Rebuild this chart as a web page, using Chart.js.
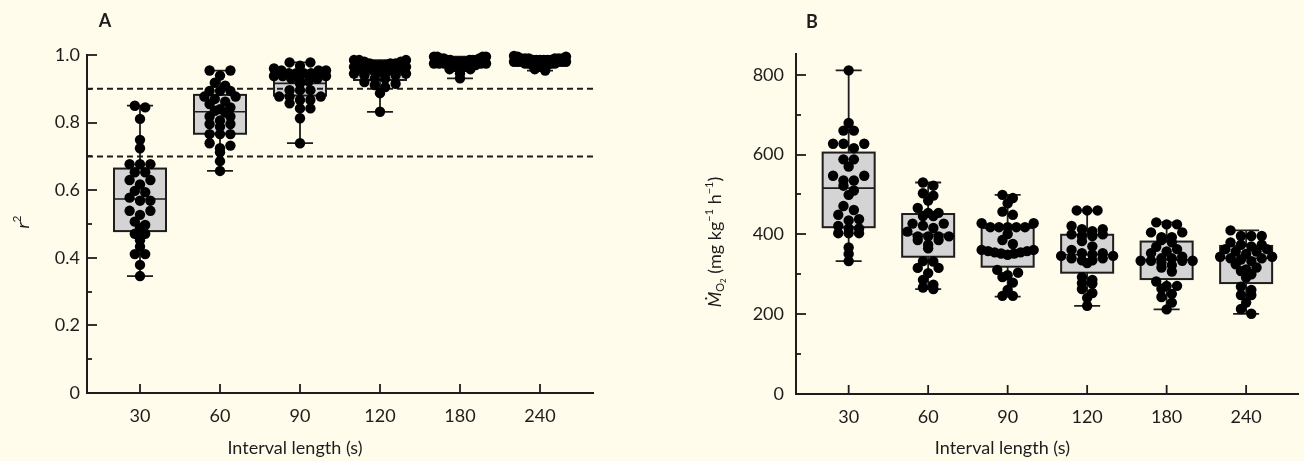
<!DOCTYPE html>
<html><head><meta charset="utf-8">
<script src="https://cdn.jsdelivr.net/npm/chart.js@4"></script>
<style>
html,body{margin:0;padding:0;background:#fffcec;}
body{width:1304px;height:461px;position:relative;overflow:hidden;}
canvas{position:absolute;top:0;}
#cA{left:0;} #cB{left:700px;}
</style></head><body>
<canvas id="cA" width="600" height="461"></canvas>
<canvas id="cB" width="604" height="461"></canvas>
<script>
// ---------------- DATA ----------------
const categories = ['30', '60', '90', '120', '180', '240'];

// Panel A: r2 values per interval length
const r2_30  = [0.850,0.845,0.811,0.749,0.724,0.677,0.677,0.677,0.653,0.653,0.630,0.630,0.617,0.598,0.594,0.578,0.569,0.569,0.539,0.539,0.527,0.507,0.497,0.489,0.471,0.471,0.452,0.433,0.411,0.411,0.379,0.346];
const r2_60  = [0.954,0.954,0.939,0.918,0.909,0.894,0.894,0.894,0.877,0.877,0.870,0.862,0.855,0.845,0.840,0.835,0.830,0.818,0.818,0.806,0.796,0.796,0.788,0.766,0.766,0.766,0.739,0.732,0.724,0.712,0.686,0.657];
const r2_90  = [0.978,0.978,0.968,0.960,0.954,0.954,0.954,0.946,0.946,0.946,0.946,0.938,0.938,0.938,0.930,0.930,0.922,0.922,0.916,0.896,0.896,0.896,0.877,0.877,0.877,0.867,0.867,0.857,0.842,0.842,0.813,0.739];
const r2_120 = [0.985,0.985,0.985,0.980,0.980,0.975,0.975,0.975,0.970,0.970,0.970,0.965,0.965,0.960,0.960,0.960,0.955,0.955,0.950,0.950,0.945,0.945,0.940,0.940,0.930,0.930,0.920,0.915,0.911,0.905,0.887,0.832];
const r2_180 = [0.995,0.995,0.995,0.995,0.990,0.990,0.990,0.985,0.985,0.985,0.985,0.985,0.980,0.980,0.980,0.980,0.980,0.975,0.975,0.975,0.975,0.975,0.970,0.970,0.970,0.965,0.965,0.965,0.958,0.958,0.945,0.931];
const r2_240 = [0.997,0.995,0.995,0.990,0.990,0.990,0.990,0.990,0.990,0.985,0.985,0.985,0.985,0.985,0.985,0.980,0.980,0.980,0.980,0.980,0.980,0.975,0.975,0.975,0.975,0.970,0.970,0.970,0.965,0.965,0.958,0.954];
const r2Min    = [0.346, 0.657, 0.739, 0.832, 0.931, 0.954];
const r2Q1     = [0.479, 0.767, 0.880, 0.926, 0.965, 0.975];
const r2Median = [0.574, 0.832, 0.916, 0.944, 0.975, 0.984];
const r2Q3     = [0.664, 0.882, 0.938, 0.965, 0.986, 0.990];
const r2Max    = [0.850, 0.954, 0.978, 0.985, 0.995, 0.997];
const r2Thresholds = [0.9, 0.7];
const r2TickValues = [0, 0.2, 0.4, 0.6, 0.8, 1.0];
const r2TickLabels = ['0', '0.2', '0.4', '0.6', '0.8', '1.0'];

// Panel B: MO2 values (mg kg-1 h-1) per interval length
const mo2_30  = [811,679,660,660,627,627,627,616,588,588,570,547,547,535,535,522,510,499,471,461,449,438,435,421,415,415,403,403,403,367,351,333];
const mo2_60  = [530,522,503,497,485,466,454,454,446,446,427,427,422,416,407,395,395,395,395,386,386,374,365,333,332,316,316,303,286,274,267,263];
const mo2_90  = [499,491,478,457,449,428,428,418,418,418,418,418,401,386,376,361,361,358,358,355,355,352,352,349,311,304,298,293,279,261,246,246];
const mo2_120 = [460,460,460,421,413,413,408,400,400,396,396,383,370,361,353,353,350,346,346,340,340,335,335,328,293,286,278,277,263,253,241,221];
const mo2_180 = [430,425,425,405,405,393,393,386,380,369,363,357,353,344,340,340,334,334,334,334,329,323,317,307,282,271,271,264,251,243,229,212];
const mo2_240 = [410,396,396,396,380,374,374,370,363,363,357,357,351,344,344,340,340,337,333,325,317,312,308,300,292,269,261,248,248,229,213,201];
const mo2Min    = [333, 263, 244, 221, 212, 201];
const mo2Q1     = [418, 344, 319, 304, 288, 278];
const mo2Median = [516, 400, 354, 349, 336, 340];
const mo2Q3     = [605, 451, 416, 399, 382, 371];
const mo2Max    = [811, 530, 499, 460, 430, 410];
const mo2TickValues = [0, 200, 400, 600, 800];
const mo2TickLabels = ['0', '200', '400', '600', '800'];

// ---------------- STYLE / HELPERS ----------------
const INK = '#1e1c1c';
const FONT = 'Lato, "Open Sans", "DejaVu Sans", sans-serif';
const FS = 18;
const DOT_R = 5.2;

function setFont(ctx, size, style, weight) {
  ctx.font = `${style || 'normal'} ${weight || 'normal'} ${size}px ${FONT}`;
}
function drawRich(ctx, segs, x, y) {
  let total = 0;
  segs.forEach(s => { setFont(ctx, s.size, s.style, s.weight); s.w = ctx.measureText(s.t).width; total += s.w; });
  let cx = x - total / 2;
  ctx.textAlign = 'left';
  ctx.textBaseline = 'middle';
  segs.forEach(s => { setFont(ctx, s.size, s.style, s.weight); ctx.fillText(s.t, cx, y + (s.dy || 0)); cx += s.w; });
}

function boxPlugin(stats, refLines) {
  return {
    id: 'boxes',
    beforeDatasetsDraw(chart) {
      const { ctx, chartArea } = chart;
      const x = chart.scales.x, y = chart.scales.y;
      ctx.save();
      // inward tick marks
      ctx.strokeStyle = INK; ctx.lineWidth = 1.8;
      y.ticks.forEach(t => {
        const p = Math.round(y.getPixelForValue(t.value));
        const len = t.label ? 10 : 5;
        ctx.beginPath(); ctx.moveTo(chartArea.left, p); ctx.lineTo(chartArea.left + len, p); ctx.stroke();
      });
      x.ticks.forEach(t => {
        const p = x.getPixelForValue(t.value);
        ctx.beginPath(); ctx.moveTo(p, chartArea.bottom); ctx.lineTo(p, chartArea.bottom - 9); ctx.stroke();
      });
      const half = 26, cap = 13;
      stats.min.forEach((_, i) => {
        const cx = x.getPixelForValue(i);
        const pMin = y.getPixelForValue(stats.min[i]);
        const pQ1 = y.getPixelForValue(stats.q1[i]);
        const pMed = y.getPixelForValue(stats.median[i]);
        const pQ3 = y.getPixelForValue(stats.q3[i]);
        const pMax = y.getPixelForValue(stats.max[i]);
        ctx.strokeStyle = INK; ctx.lineWidth = 1.8;
        ctx.beginPath();
        ctx.moveTo(cx, pMax); ctx.lineTo(cx, pMin);
        ctx.moveTo(cx - cap, pMax); ctx.lineTo(cx + cap, pMax);
        ctx.moveTo(cx - cap, pMin); ctx.lineTo(cx + cap, pMin);
        ctx.stroke();
        ctx.fillStyle = '#d4d4d4';
        ctx.fillRect(cx - half, pQ3, 2 * half, pQ1 - pQ3);
        ctx.lineWidth = 2;
        ctx.strokeRect(cx - half, pQ3, 2 * half, pQ1 - pQ3);
        ctx.lineWidth = 1.6;
        ctx.beginPath(); ctx.moveTo(cx - half, pMed); ctx.lineTo(cx + half, pMed); ctx.stroke();
      });
      if (refLines) {
        ctx.setLineDash([6, 4]); ctx.lineWidth = 2; ctx.strokeStyle = INK;
        refLines.forEach(v => {
          const p = y.getPixelForValue(v);
          ctx.beginPath(); ctx.moveTo(chartArea.left, p); ctx.lineTo(chartArea.right, p); ctx.stroke();
        });
      }
      ctx.restore();
    }
  };
}

function textPlugin(opts) {
  return {
    id: 'texts',
    afterDraw(chart) {
      const { ctx, chartArea } = chart;
      ctx.save();
      ctx.fillStyle = INK;
      setFont(ctx, FS, 'normal', 'bold');
      ctx.textAlign = 'center'; ctx.textBaseline = 'middle';
      ctx.fillText(opts.letter, opts.letterX, opts.letterY);
      setFont(ctx, FS);
      ctx.fillText('Interval length (s)', (chartArea.left + chartArea.right) / 2 + opts.xTitleShift, 448);
      ctx.translate(opts.yTitleX, opts.yTitleY);
      ctx.rotate(-Math.PI / 2);
      drawRich(ctx, opts.yTitle, 0, 0);
      ctx.restore();
    }
  };
}

function makeChart(id, groups, stats, o) {
  const datasets = groups.map((vals, i) => ({
    data: vals.map(v => ({ x: i, y: v })),
    pointRadius: DOT_R, pointHoverRadius: DOT_R,
    pointBackgroundColor: '#000', pointBorderWidth: 0, clip: false
  }));
  const chart = new Chart(document.getElementById(id), {
    type: 'scatter',
    data: { datasets },
    options: {
      responsive: false, animation: false, events: [],
      layout: { padding: { left: 0, right: o.padRight, top: o.padTop, bottom: 0 } },
      plugins: { legend: { display: false }, tooltip: { enabled: false } },
      scales: {
        x: {
          type: 'linear', min: -0.6625, max: categories.length - 1 + 0.6625,
          grid: { display: true, drawOnChartArea: false, drawTicks: false },
          border: { display: true, color: INK, width: 2 },
          ticks: {
            stepSize: 1, includeBounds: false, autoSkip: false, maxRotation: 0,
            padding: 12, color: INK, font: { family: FONT, size: FS },
            callback: v => (Number.isInteger(v) && categories[v] !== undefined) ? categories[v] : ''
          },
          afterFit: s => { s.height = o.xHeight; }
        },
        y: {
          min: 0, max: o.yMax,
          grid: { display: true, drawOnChartArea: false, drawTicks: false },
          border: { display: true, color: INK, width: 2 },
          ticks: {
            stepSize: o.step, includeBounds: false, autoSkip: false,
            padding: o.yPad, color: INK, font: { family: FONT, size: FS },
            callback: v => {
              const k = o.tickValues.findIndex(t => Math.abs(t - v) < 1e-9);
              return k >= 0 ? o.tickLabels[k] : '';
            }
          },
          afterFit: s => { s.width = o.yWidth; }
        }
      }
    },
    plugins: [boxPlugin(stats, o.refLines), textPlugin(o)]
  });
  // beeswarm layout computed from the values through the chart's own scales
  const xs = chart.scales.x, ys = chart.scales.y;
  const d = DOT_R * 2, maxHalf = 26;
  groups.forEach((vals, i) => {
    const px = vals.map(v => ys.getPixelForValue(v));
    const idx = px.map((p, k) => k).sort((a, b) => px[a] - px[b]);
    const off = new Array(vals.length).fill(0);
    let j = 0;
    while (j < idx.length) {
      const start = px[idx[j]];
      const row = [idx[j]]; j++;
      while (j < idx.length && px[idx[j]] - start < d * 0.55) { row.push(idx[j]); j++; }
      const n = row.length;
      const sp = n > 1 ? Math.min(d, 2 * maxHalf / (n - 1)) : 0;
      const slots = [];
      for (let k = 0; k < n; k++) slots.push((k - (n - 1) / 2) * sp);
      slots.sort((a, b) => Math.abs(b) - Math.abs(a) || a - b);
      row.forEach((id, k) => { off[id] = slots[k]; });
    }
    const c = xs.getPixelForValue(i);
    chart.data.datasets[i].data = vals.map((v, k) => ({ x: xs.getValueForPixel(c + off[k]), y: v }));
  });
  chart.update('none');
  return chart;
}

makeChart('cA', [r2_30, r2_60, r2_90, r2_120, r2_180, r2_240],
  { min: r2Min, q1: r2Q1, median: r2Median, q3: r2Q3, max: r2Max },
  { padRight: 7, padTop: 55, xHeight: 68, yWidth: 87, yPad: 7, yMax: 1.0, step: 0.1,
    tickValues: r2TickValues, tickLabels: r2TickLabels, refLines: r2Thresholds,
    letter: 'A', letterX: 105, letterY: 21, xTitleShift: -45, yTitleX: 23, yTitleY: 222,
    yTitle: [{ t: 'r', size: FS, style: 'italic' }, { t: '2', size: 12, dy: -6 }] });

makeChart('cB', [mo2_30, mo2_60, mo2_90, mo2_120, mo2_180, mo2_240],
  { min: mo2Min, q1: mo2Q1, median: mo2Median, q3: mo2Q3, max: mo2Max },
  { padRight: 2, padTop: 54, xHeight: 67, yWidth: 96, yPad: 12, yMax: 852, step: 100,
    tickValues: mo2TickValues, tickLabels: mo2TickLabels, refLines: null,
    letter: 'B', letterX: 112, letterY: 22, xTitleShift: -45, yTitleX: 15, yTitleY: 242,
    yTitle: [{ t: 'Ṁ', size: FS, style: 'italic' }, { t: 'O', size: 11, dy: 5 }, { t: '2', size: 8, dy: 8 },
             { t: ' (mg kg', size: FS }, { t: '−1', size: 11, dy: -6 }, { t: ' h', size: FS },
             { t: '−1', size: 11, dy: -6 }, { t: ')', size: FS }] });
</script>
</body></html>
